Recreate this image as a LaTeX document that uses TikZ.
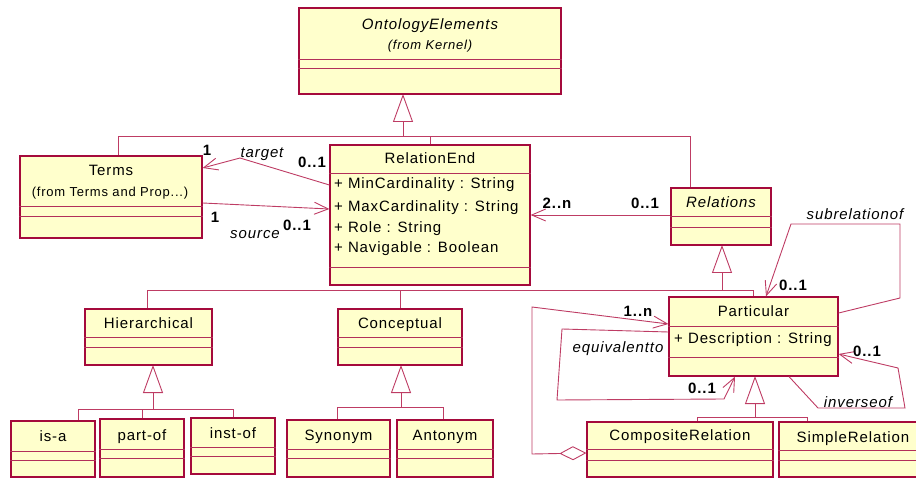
\documentclass[tikz,border=0pt]{standalone}
\usepackage{fontspec}
\setmainfont{Liberation Sans}[LetterSpace=6]
\usetikzlibrary{arrows.meta}

\definecolor{clsfill}{RGB}{255,255,204}
\definecolor{clsdraw}{RGB}{165,10,60}
\definecolor{linkc}{RGB}{190,60,100}

% horizontal compartment divider across a class box at height #2
\newcommand\compline[2]{\draw[sep] (#1.west |- 0,#2) -- (#1.east |- 0,#2);}

\begin{document}
\begin{tikzpicture}[x=1pt,y=-1pt,
  font=\fontsize{15}{17}\selectfont,
  cls/.style={draw=clsdraw, fill=clsfill, line width=1.2pt, inner sep=0pt, rectangle},
  sep/.style={draw=clsdraw!85, line width=0.9pt},
  link/.style={draw=linkc, line width=0.9pt},
  nav/.style={link, -{Straight Barb[length=14pt,width=12pt]}},
  gen/.style={link, -{Triangle[open,length=28pt,width=20pt]}},
  agg/.style={link, {Diamond[open,length=27pt,width=14pt]}-{Straight Barb[length=14pt,width=12pt]}},
  t/.style={inner sep=0pt, anchor=base},
  tl/.style={t, anchor=base west},
  ti/.style={t, font=\fontsize{15}{17}\selectfont\itshape},
  ts/.style={t, font=\fontsize{13}{15}\selectfont},
  tsi/.style={t, font=\fontsize{13}{15}\selectfont\itshape},
  tm/.style={t, font=\fontsize{15}{17}\selectfont\bfseries}]

\useasboundingbox (0,0) rectangle (916,478);

% ---------- generalization links (drawn first, boxes cover the ends)
\coordinate (gtop) at (403,136);
\draw[link] (118,0 |- 0,156) -- (118,136) -- (690,136) -- (690,188);
\draw[link] (430,145) -- (430,136);
\draw[gen] (gtop) -- (403,94);

\draw[link] (147,309) |- (753,290) -- (753,297);
\draw[link] (400,309) -- (400,290);
\draw[gen] (722,290) -- (722,245);

\draw[link] (78,421) |- (233,409) -- (233,418);
\draw[link] (142,419) -- (142,409);
\draw[gen] (153,409) -- (153,365);

\draw[link] (337,420) |- (443,407) -- (443,420);
\draw[gen] (401,407) -- (401,365);

\draw[link] (697,422) |- (807,417) -- (807,422);
\draw[gen] (755,417) -- (755,376);

% ---------- class boxes
\node[cls, minimum width=262, minimum height=86] (onto) at (430,51) {};
\compline{onto}{59} \compline{onto}{68}
\node[ti] (onto-n) at (430,30) {OntologyElements};
\node[tsi] (onto-f) at (430,50) {(from Kernel)};

\node[cls, minimum width=182, minimum height=82] (terms) at (111,197) {};
\compline{terms}{206} \compline{terms}{216}
\node[t] (terms-n) at (111,176) {Terms};
\node[ts] (terms-f) at (110,197) {(from Terms and Prop...)};

\node[cls, minimum width=200, minimum height=140] (relend) at (430,215) {};
\compline{relend}{173} \compline{relend}{267}
\node[t] (relend-n) at (430,164) {RelationEnd};
\node[tl] (relend-a1) at (334,189) {+ MinCardinality : String};
\node[tl] (relend-a2) at (334,212) {+ MaxCardinality : String};
\node[tl] (relend-a3) at (334,233) {+ Role : String};
\node[tl] (relend-a4) at (334,253) {+ Navigable : Boolean};

\node[cls, minimum width=100, minimum height=57] (relations) at (721,216.5) {};
\compline{relations}{216} \compline{relations}{227}
\node[ti] (relations-n) at (721,208) {Relations};

\node[cls, minimum width=127, minimum height=56] (hier) at (148.5,337) {};
\compline{hier}{337} \compline{hier}{347}
\node[t] (hier-n) at (148.5,329) {Hierarchical};

\node[cls, minimum width=124, minimum height=56] (conc) at (400,337) {};
\compline{conc}{337} \compline{conc}{347}
\node[t] (conc-n) at (400,329) {Conceptual};

\node[cls, minimum width=84, minimum height=56] (isa) at (53,449) {};
\compline{isa}{451} \compline{isa}{460}
\node[t] (isa-n) at (53,441) {is-a};

\node[cls, minimum width=84, minimum height=58] (partof) at (142,448) {};
\compline{partof}{449} \compline{partof}{458}
\node[t] (partof-n) at (142,440) {part-of};

\node[cls, minimum width=84, minimum height=56] (instof) at (233,446) {};
\compline{instof}{447} \compline{instof}{456}
\node[t] (instof-n) at (233,438) {inst-of};

\node[cls, minimum width=103, minimum height=57] (syn) at (338.5,448.5) {};
\compline{syn}{449} \compline{syn}{458}
\node[t] (syn-n) at (338.5,440) {Synonym};

\node[cls, minimum width=96, minimum height=57] (ant) at (445,448.5) {};
\compline{ant}{449} \compline{ant}{458}
\node[t] (ant-n) at (445,440) {Antonym};

\node[cls, minimum width=169, minimum height=79] (part) at (753.5,336.5) {};
\compline{part}{326} \compline{part}{357}
\node[t] (part-n) at (753.5,317) {Particular};
\node[tl] (part-a1) at (674,344) {+ Description : String};

\node[cls, minimum width=186, minimum height=55] (comp) at (680,449.5) {};
\compline{comp}{449} \compline{comp}{460}
\node[t] (comp-n) at (680,440) {CompositeRelation};

\node[cls, minimum width=141, minimum height=55] (simple) at (849.5,449.5) {};
\compline{simple}{450} \compline{simple}{460}
\node[t] (simple-n) at (853,442) {SimpleRelation};

% ---------- associations
\coordinate (tbend) at (240,158);
\draw[nav] (relend.west |- 0,185) -- (tbend) -- (terms.east |- 0,168);
\draw[nav] (terms.east |- 0,203) -- (relend.west |- 0,209);
\draw[nav] (relations.west |- 0,215) -- (relend.east |- 0,215);

\coordinate (sb1) at (900,298);
\coordinate (sb2) at (900,224);
\coordinate (sb3) at (791,224);
\draw[nav] (part.east |- 0,313) -- (sb1) -- (sb2) -- (sb3) -- (766,0 |- part.north);

\coordinate (ib1) at (818,408);
\coordinate (ib2) at (905,408);
\coordinate (ib3) at (898,368);
\draw[nav] (789,0 |- part.south) -- (ib1) -- (ib2) -- (ib3) -- (part.east |- 0,354);

\coordinate (eb1) at (562,329);
\coordinate (eb2) at (557,400);
\coordinate (eb3) at (724,399);
\draw[nav] (part.west |- 0,332) -- (eb1) -- (eb2) -- (eb3) -- (735,0 |- part.south);

\coordinate (ab1) at (532,454);
\coordinate (ab2) at (532,307);
\draw[agg] (comp.west |- 0,453) -- (ab1) -- (ab2) -- (part.west |- 0,324);

% ---------- role names and multiplicities
\node[tm] (m1) at (207,156) {1};
\node[ti] (r-target) at (262,158) {target};
\node[tm] (m2) at (312,168) {0..1};
\node[tm] (m3) at (215,223) {1};
\node[ti] (r-source) at (255,239) {source};
\node[tm] (m4) at (297,231) {0..1};
\node[tm] (m5) at (557,209) {2..n};
\node[tm] (m6) at (645,209) {0..1};
\node[ti] (r-sub) at (855,220) {subrelationof};
\node[tm] (m7) at (793,291) {0..1};
\node[tm] (m8) at (638,317) {1..n};
\node[ti] (r-equiv) at (618,353) {equivalentto};
\node[tm] (m9) at (702,393) {0..1};
\node[tm] (m10) at (867,356) {0..1};
\node[ti] (r-inv) at (858,407) {inverseof};

\end{tikzpicture}
\end{document}
